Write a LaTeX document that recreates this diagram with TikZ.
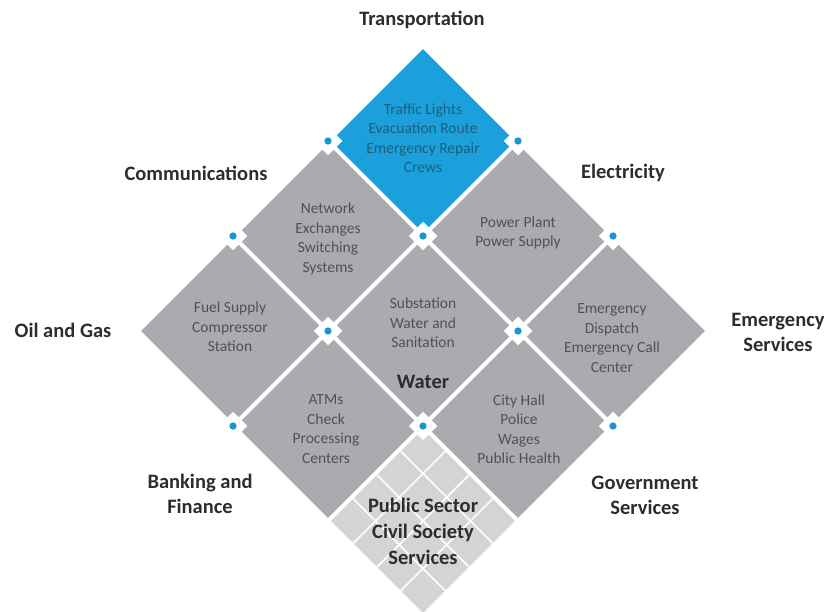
\documentclass[tikz,border=0pt]{standalone}
\usepackage{fontspec}
\setmainfont{Carlito}
\definecolor{cellgray}{RGB}{171,171,175}
\definecolor{cellblue}{RGB}{27,160,220}
\definecolor{pubgray}{RGB}{212,212,214}
\definecolor{dotblue}{RGB}{25,150,205}
\definecolor{labelc}{RGB}{45,45,45}
\definecolor{innerc}{RGB}{80,80,86}
\definecolor{innerblue}{RGB}{30,95,125}
\tikzset{
  catlabel/.style={font=\fontsize{20.5}{25}\selectfont\bfseries, text=labelc, align=center, inner sep=0pt},
  inner/.style={font=\fontsize{15.5}{19.5}\selectfont, text=innerc, align=center, inner sep=0pt},
  innerb/.style={inner, text=innerblue},
  gap/.style={white, line width=4pt},
  thingap/.style={white, line width=1.6pt},
}
\begin{document}
\begin{tikzpicture}[x=1pt,y=1pt]
\useasboundingbox (0,0) rectangle (827,-612);
\fill[white] (0,0) rectangle (827,-612);
\begin{scope}
\clip (0,0) rectangle (827,-612);
\begin{scope}[shift={(423pt,-46pt)}, x={(95pt,-95pt)}, y={(-95pt,-95pt)}]
  % cells
  \foreach \i/\j in {1/0,0/1,2/0,1/1,0/2,2/1,1/2}
    \fill[cellgray] (\i,\j) -- (\i+1,\j) -- (\i+1,\j+1) -- (\i,\j+1) -- cycle;
  \fill[cellblue] (0,0) -- (1,0) -- (1,1) -- (0,1) -- cycle;
  \fill[pubgray] (2,2) -- (3,2) -- (3,3) -- (2,3) -- cycle;
  % sub-grid of the public sector cell
  \foreach \t in {0.25,0.5,0.75} {
    \draw[thingap] (2+\t,2) -- (2+\t,3);
    \draw[thingap] (2,2+\t) -- (3,2+\t);
  }
  % gaps
  \foreach \t in {0,1,2,3} {
    \draw[gap] (\t,0) -- (\t,3);
    \draw[gap] (0,\t) -- (3,\t);
  }
  % dots
  \foreach \u/\v in {0/1,0/2,1/0,2/0,1/1,1/2,2/1,2/2,1/3,3/1} {
    \fill[white] (\u-0.075,\v-0.075) -- (\u+0.075,\v-0.075) -- (\u+0.075,\v+0.075) -- (\u-0.075,\v+0.075) -- cycle;
    \fill[dotblue] (\u,\v) circle[radius=0.027];
  }
\end{scope}
\end{scope}
% category labels
\node[catlabel] (transport) at (422,-20) {Transportation};
\node[catlabel] (comm) at (196,-173) {Communications};
\node[catlabel] (elec) at (623,-173) {Electricity};
\node[catlabel] (oil) at (63,-330) {Oil and Gas};
\node[catlabel] (emerg) at (778,-332) {Emergency\\Services};
\node[catlabel] (bank) at (200,-494) {Banking and\\Finance};
\node[catlabel] (gov) at (645,-495) {Government\\Services};
\node[catlabel] (water) at (423,-382) {Water};
\node[catlabel, font=\fontsize{20.5}{26}\selectfont\bfseries] (public) at (423,-531) {Public Sector\\Civil Society\\Services};
% inner texts
\node[innerb] (tin) at (423,-138) {Traffic Lights\\Evacuation Route\\Emergency Repair\\Crews};
\node[inner] (cin) at (328,-239) {Network\\Exchanges\\Switching\\Systems};
\node[inner] (ein) at (518,-233) {Power Plant\\Power Supply};
\node[inner] (oin) at (230,-327) {Fuel Supply\\Compressor\\Station};
\node[inner] (win) at (423,-323) {Substation\\Water and\\Sanitation};
\node[inner] (emin) at (612,-338) {Emergency\\Dispatch\\Emergency Call\\Center};
\node[inner] (bin) at (326,-429) {ATMs\\Check\\Processing\\Centers};
\node[inner] (gin) at (519,-429) {City Hall\\Police\\Wages\\Public Health};
\end{tikzpicture}
\end{document}
